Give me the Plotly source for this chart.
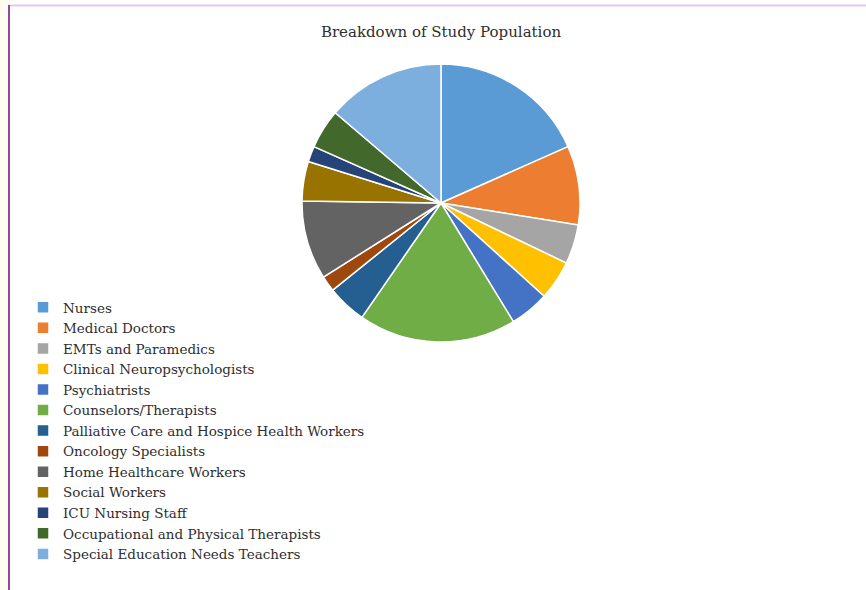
import plotly.graph_objects as go

categories = [
    "Nurses", "Medical Doctors", "EMTs and Paramedics", "Clinical Neuropsychologists",
    "Psychiatrists", "Counselors/Therapists", "Palliative Care and Hospice Health Workers",
    "Oncology Specialists", "Home Healthcare Workers", "Social Workers",
    "ICU Nursing Staff", "Occupational and Physical Therapists", "Special Education Needs Teachers",
]
values = [20, 10, 5, 5, 5, 20, 5, 2, 10, 5, 2, 5, 15]
colors = [
    "#5B9BD5", "#ED7D31", "#A5A5A5", "#FFC000", "#4472C4", "#70AD47", "#255E91",
    "#9E480E", "#636363", "#997300", "#264478", "#43682B", "#7CAFDD",
]

W, H = 866, 590
cx, cy, r = 441, 203, 139

fig = go.Figure(go.Pie(
    labels=categories, values=values, sort=False, direction="clockwise", rotation=0,
    marker=dict(colors=colors, line=dict(color="white", width=1.5)),
    textinfo="none", hoverinfo="label+value+percent",
    domain=dict(x=[(cx - r) / W, (cx + r) / W], y=[1 - (cy + r) / H, 1 - (cy - r) / H]),
))

fig.update_layout(
    width=W, height=H, margin=dict(l=0, r=0, t=0, b=0),
    paper_bgcolor="white", plot_bgcolor="white",
    title=dict(text="Breakdown of Study Population", x=441 / W, xanchor="center",
               y=1 - 32 / H, yanchor="middle",
               font=dict(family="DejaVu Serif", size=15, color="#2E2E2E")),
    legend=dict(x=23 / W, xanchor="left", y=1 - 292 / H, yanchor="top",
                font=dict(family="DejaVu Serif", size=13.5, color="#2E2E2E"),
                bgcolor="rgba(0,0,0,0)", tracegroupgap=0),
    shapes=[
        dict(type="rect", xref="paper", yref="paper", x0=0, x1=8 / W, y0=0, y1=1,
             fillcolor="#FFFDF0", line=dict(width=0), layer="below"),
        dict(type="line", xref="paper", yref="paper", x0=8 / W, x1=1, y0=1 - 5.5 / H, y1=1 - 5.5 / H,
             line=dict(color="#E8C8E8", width=2)),
        dict(type="line", xref="paper", yref="paper", x0=9 / W, x1=9 / W, y0=0, y1=1 - 5 / H,
             line=dict(color="#8A4A9E", width=2)),
    ],
)

fig.write_html("out.html")
